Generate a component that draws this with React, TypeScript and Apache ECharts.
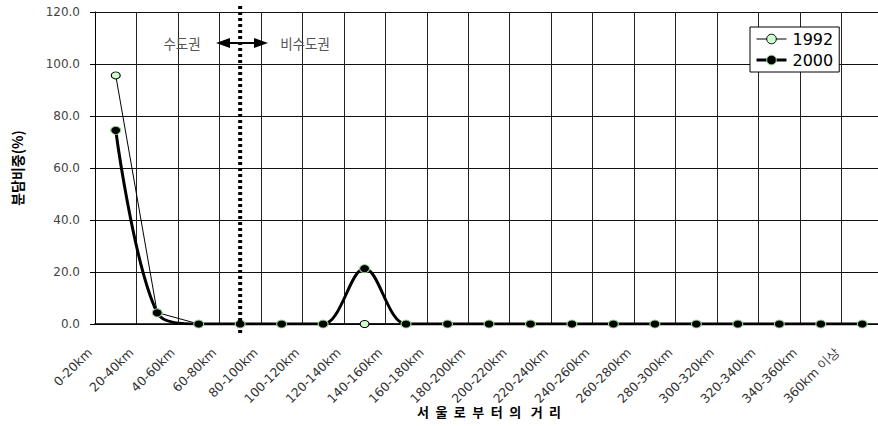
import React, { useEffect, useRef } from "react";
import * as echarts from "echarts";

const categories = [
  "0-20km", "20-40km", "40-60km", "60-80km", "80-100km", "100-120km",
  "120-140km", "140-160km", "160-180km", "180-200km", "200-220km",
  "220-240km", "240-260km", "260-280km", "280-300km", "300-320km",
  "320-340km", "340-360km", "360km 이상",
];
const values1992 = [95.6, 4.4, 0, 0, 0, 0, 0, 0, 0, 0, 0, 0, 0, 0, 0, 0, 0, 0, 0];
const values2000 = [74.5, 4.3, 0, 0, 0, 0, 21.3, 0, 0, 0, 0, 0, 0, 0, 0, 0, 0, 0, 0];
const yTicks = { min: 0, max: 120, interval: 20 };
const borderCategory = "60-80km";

export default function App() {
  const ref = useRef<HTMLDivElement>(null);
  useEffect(() => {
    document.body.style.margin = "0";
    if (!ref.current) return;
    const chart = echarts.init(ref.current, null, { renderer: "svg" });
    const option: any = {
      animation: false,
      backgroundColor: "#fff",
      grid: {
        left: 95,
        top: 12,
        width: 788,
        height: 312,
        containLabel: false,
        outerBoundsMode: "none",
      },
      legend: {
        left: 750,
        top: 27,
        orient: "vertical",
        backgroundColor: "#fff",
        borderColor: "#000",
        borderWidth: 1,
        borderRadius: 0,
        padding: [4, 6, 4, 5],
        itemGap: 5,
        itemWidth: 30,
        itemHeight: 12,
        textStyle: { fontSize: 16, fontFamily: "DejaVu Sans", color: "#000", padding: [0, 0, 0, 1] },
        data: [
          {
            name: "1992",
            itemStyle: { color: "#ccffcc", borderColor: "#000", borderWidth: 1 },
            lineStyle: { color: "#000", width: 1 },
          },
          {
            name: "2000",
            itemStyle: { color: "#000", borderColor: "#99dd99", borderWidth: 1 },
            lineStyle: { color: "#000", width: 3 },
          },
        ],
      },
      xAxis: {
        type: "category",
        data: categories,
        boundaryGap: true,
        name: "서\u2002울\u2002로\u2002부\u2002터\u2002의\u2002 거\u2002리",
        nameLocation: "middle",
        nameGap: 81,
        nameMoveOverlap: false,
        nameTextStyle: { fontWeight: "bold", fontSize: 13, color: "#000", fontFamily: "Noto Sans CJK KR" },
        axisLine: { lineStyle: { color: "#000", width: 1.5 } },
        axisTick: { show: false },
        splitLine: { show: true, interval: 0, lineStyle: { color: "#222", width: 1 } },
        axisLabel: {
          interval: 0,
          rotate: 45,
          margin: 0,
          padding: [0, 37, 0, 0],
          fontSize: 12.5,
          color: "#333",
          fontFamily: "DejaVu Sans",
        },
      },
      yAxis: {
        type: "value",
        min: yTicks.min,
        max: yTicks.max,
        interval: yTicks.interval,
        name: "분담비중(%)",
        nameLocation: "middle",
        nameGap: 71,
        nameMoveOverlap: false,
        nameTextStyle: { fontWeight: "bold", fontSize: 14, color: "#000", fontFamily: "Noto Sans CJK KR" },
        axisLine: { show: true, lineStyle: { color: "#000", width: 1 } },
        axisTick: { show: true, length: 5, lineStyle: { color: "#000" } },
        splitLine: { show: true, lineStyle: { color: "#111", width: 1 } },
        axisLabel: {
          margin: 15,
          fontSize: 12,
          color: "#444",
          fontFamily: "DejaVu Sans",
          formatter: (v: number) => v.toFixed(1),
        },
      },
      series: [
        {
          name: "1992",
          type: "line",
          data: values1992,
          smooth: false,
          symbol: "circle",
          symbolSize: [9, 7],
          lineStyle: { color: "#000", width: 1 },
          itemStyle: { color: "#ccffcc", borderColor: "#000", borderWidth: 1 },
          z: 2,
        },
        {
          name: "2000",
          type: "line",
          data: values2000,
          smooth: 0.35,
          symbol: "circle",
          symbolSize: [10, 8],
          lineStyle: { color: "#000", width: 3 },
          itemStyle: { color: "#000", borderColor: "#99dd99", borderWidth: 1 },
          z: 3,
        },
      ],
    };
    chart.setOption(option);

    const bx = chart.convertToPixel({ xAxisIndex: 0 }, borderCategory) as number;
    const ay = 43;
    const left = 216;
    const right = 268;
    const head = 14;
    const hw = 5;
    chart.setOption({
      graphic: [
        {
          type: "line",
          shape: { x1: bx, y1: 6, x2: bx, y2: 334 },
          style: { stroke: "#000", lineWidth: 4, lineDash: [3, 3] },
          z: 10,
        },
        {
          type: "line",
          shape: { x1: left + head - 2, y1: ay, x2: right - head + 2, y2: ay },
          style: { stroke: "#000", lineWidth: 2 },
          z: 11,
        },
        {
          type: "polygon",
          shape: { points: [[left, ay], [left + head, ay - hw], [left + head, ay + hw]] },
          style: { fill: "#000" },
          z: 11,
        },
        {
          type: "polygon",
          shape: { points: [[right, ay], [right - head, ay - hw], [right - head, ay + hw]] },
          style: { fill: "#000" },
          z: 11,
        },
        {
          type: "text",
          x: 182,
          y: ay,
          style: {
            text: "수도권",
            fontSize: 13.5,
            fill: "#555",
            fontFamily: "Noto Sans CJK KR",
            align: "center",
            verticalAlign: "middle",
          },
          z: 11,
        },
        {
          type: "text",
          x: 305,
          y: ay,
          style: {
            text: "비수도권",
            fontSize: 13.5,
            fill: "#555",
            fontFamily: "Noto Sans CJK KR",
            align: "center",
            verticalAlign: "middle",
          },
          z: 11,
        },
      ],
    });

    return () => chart.dispose();
  }, []);
  return <div ref={ref} style={{ width: 878, height: 426 }} />;
}
